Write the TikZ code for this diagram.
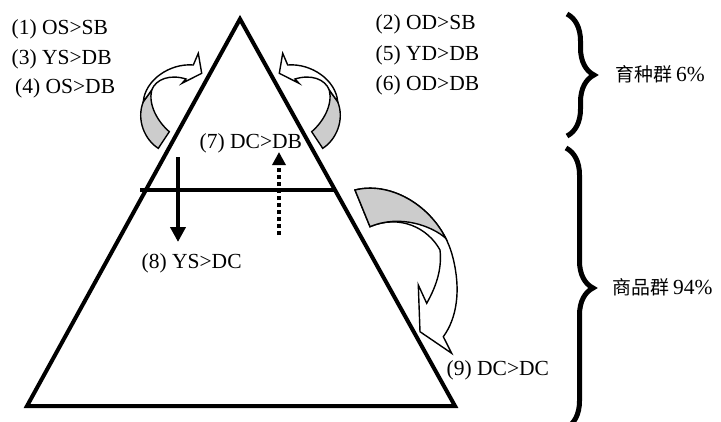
\documentclass[tikz,border=0pt]{standalone}
\usepackage{fontspec}
\setmainfont{Liberation Serif}
\newfontfamily\cjk{Noto Sans CJK SC}
\usetikzlibrary{arrows.meta,decorations.pathreplacing}

\begin{document}
\begin{tikzpicture}[x=1pt,y=-1pt,
  lbl/.style={anchor=base west, inner sep=0pt, font=\fontsize{21.5}{25}\selectfont},
  edge/.style={line width=4pt, line join=miter},
  bandface/.style={fill=white, draw=black, line width=1.4pt, line join=miter},
  backface/.style={fill=black!20, draw=black, line width=1.4pt, line join=miter},
  bracket/.style={line width=5pt, decorate, decoration={brace, amplitude=27pt}},
  flow/.style={line width=4pt},
]
\useasboundingbox (0,0) rectangle (721,421);
\clip (0,0) rectangle (721,421);

% curved arrow on the upper left, and its mirror image on the upper right
\def\twistarrow{%
  \path[backface] (143.3,101.7) .. controls (136,120) and (145,140) .. (158.3,148.3)
    -- (169.3,131.7) .. controls (158,122) and (148,105) .. (151.7,90) -- cycle;
  \path[bandface] (143.3,101.7) .. controls (145,80) and (170,63) .. (193.3,65)
    -- (198.3,53.3) -- (201.7,73.3) -- (182,83.3) -- (186,79)
    .. controls (170,74) and (156,79) .. (151.7,90) -- cycle;
}
\begin{scope}
  \twistarrow
\end{scope}
\begin{scope}[shift={(481,0)}, xscale=-1]
  \twistarrow
\end{scope}

% large curved arrow beside the lower part
\path[bandface] (355,190) .. controls (395,180) and (442,212) .. (453,258)
  .. controls (461,290) and (457,318) .. (443.3,336.7)
  -- (451.7,353.3) -- (420,331.7) -- (418.3,285) -- (426.7,303.3)
  .. controls (437,285) and (442,268) .. (440,250)
  .. controls (428,228) and (400,214) .. (370,226.7) -- cycle;
\path[backface] (355,190) .. controls (389,181.5) and (428.1,203.4) .. (445.8,238.3)
  .. controls (432,226) and (400,214) .. (370,226.7) -- cycle;

% pyramid
\coordinate (apex) at (240,19);
\coordinate (bl) at (27,406);
\coordinate (br) at (455,406);
\coordinate (hl) at (140,190);
\coordinate (hr) at (335,190);
\draw[edge] (apex) -- (br) -- (bl) -- cycle;
\draw[line width=3.5pt] (hl) -- (hr);

% vertical flows across the divide
\coordinate (downA) at (178,157);
\coordinate (downB) at (178,242);
\coordinate (upA) at (279,235);
\coordinate (upB) at (279,152);
\draw[flow, -{Triangle[width=15pt,length=15pt]}] (downA) -- (downB);
\draw[flow, dash pattern=on 4pt off 3pt, -{Triangle[width=13pt,length=13pt]}] (upA) -- (upB);

% labels
\node[lbl] (t1) at (11.5,34.5) {(1) OS>SB};
\node[lbl] (t3) at (11.5,64) {(3) YS>DB};
\node[lbl] (t4) at (15,93) {(4) OS>DB};
\node[lbl] (t2) at (375.5,29) {(2) OD>SB};
\node[lbl] (t5) at (375.5,60) {(5) YD>DB};
\node[lbl] (t6) at (375.5,90) {(6) OD>DB};
\node[lbl] (t7) at (199.5,148.5) {(7) DC>DB};
\node[lbl] (t8) at (141.5,268.5) {(8) YS>DC};
\node[lbl] (t9) at (446.5,375) {(9) DC>DC};

% braces and group shares
\coordinate (b1a) at (567,14);
\coordinate (b1b) at (567,136);
\coordinate (b2a) at (566,148);
\coordinate (b2b) at (566,428);
\draw[bracket] (b1a) -- (b1b);
\draw[bracket] (b2a) -- (b2b);
\node[lbl] (g1) at (615,81.5) {{\cjk\fontsize{18.9}{22}\selectfont 育种群}\hspace{0.2em}6\%};
\node[lbl] (g2) at (612,294) {{\cjk\fontsize{18.9}{22}\selectfont 商品群}\hspace{0.2em}94\%};
\end{tikzpicture}
\end{document}
